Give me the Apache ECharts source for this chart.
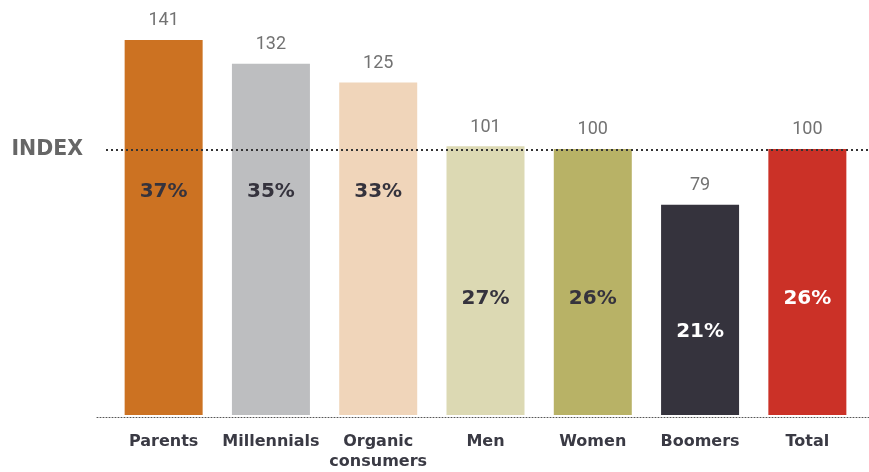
<!DOCTYPE html>
<html>
<head>
<meta charset="utf-8">
<script src="https://cdn.jsdelivr.net/npm/echarts@6/dist/echarts.min.js"></script>
<style>
  html, body { margin: 0; padding: 0; background: #fff; }
  #chart { width: 869px; height: 472px; }
</style>
</head>
<body>
<div id="chart"></div>
<script>
// Shopper groups, their index versus the total, and the share behind each index
const categories = ['Parents', 'Millennials', 'Organic\nconsumers', 'Men', 'Women', 'Boomers', 'Total'];
const indexValues = [141, 132, 125, 101, 100, 79, 100];
const shareLabels = ['37%', '35%', '33%', '27%', '26%', '21%', '26%'];
const indexLine = 100;

const barColors = ['#CC7222', '#BDBEC0', '#F0D5BA', '#DCD9B3', '#B8B266', '#35333D', '#CB3127'];
const shareTextColors = ['#35333D', '#35333D', '#35333D', '#35333D', '#35333D', '#FFFFFF', '#FFFFFF'];
// distance of each share label from the bar foot, in px
const shareLabelLift = [213, 213, 213, 106, 106, 73, 106];

const yMax = 156;
const gridTop = 0, gridBottom = 55;

const chart = echarts.init(document.getElementById('chart'), null, { renderer: 'canvas' });

const option = {
  animation: false,
  backgroundColor: '#ffffff',
  grid: [
    { left: 110, right: 8, top: gridTop, bottom: gridBottom },   // bars
    { left: 97, right: 0, top: gridTop, bottom: gridBottom },    // dotted floor
    { left: 106, right: 0, top: gridTop, bottom: gridBottom }    // index reference line
  ],
  xAxis: [
    {
      gridIndex: 0, type: 'category', data: categories,
      axisLine: { show: false }, axisTick: { show: false },
      axisLabel: {
        interval: 0,
        color: '#3A3A44', fontFamily: 'DejaVu Sans', fontWeight: 'bold', fontSize: 16,
        margin: 17, lineHeight: 20, verticalAlign: 'top'
      }
    },
    {
      gridIndex: 1, type: 'value', min: 0, max: 1,
      axisLine: { show: true, lineStyle: { color: '#555', width: 1, type: [1, 2] } },
      axisTick: { show: false }, axisLabel: { show: false }, splitLine: { show: false }
    },
    {
      gridIndex: 2, type: 'value', min: 0, max: 1, show: false
    }
  ],
  yAxis: [
    { gridIndex: 0, type: 'value', min: 0, max: yMax, show: false },
    { gridIndex: 1, type: 'value', min: 0, max: yMax, show: false },
    { gridIndex: 2, type: 'value', min: 0, max: yMax, show: false }
  ],
  series: [
    {
      type: 'bar', xAxisIndex: 0, yAxisIndex: 0, barWidth: 78,
      data: indexValues.map((v, i) => ({
        value: v,
        itemStyle: { color: barColors[i] },
        label: {
          show: true, position: 'insideBottom', distance: shareLabelLift[i],
          formatter: shareLabels[i], color: shareTextColors[i],
          fontFamily: 'DejaVu Sans', fontWeight: 'bold', fontSize: 20
        }
      })),
      z: 2
    },
    {
      type: 'bar', xAxisIndex: 0, yAxisIndex: 0, barWidth: 78, barGap: '-100%',
      data: indexValues,
      itemStyle: { color: 'rgba(0,0,0,0)' },
      label: {
        show: true, position: 'top', distance: 10,
        color: '#727272', fontFamily: 'Roboto', fontWeight: 'normal', fontSize: 18
      },
      silent: true, z: 3
    },
    {
      type: 'line', xAxisIndex: 2, yAxisIndex: 2, data: [], silent: true,
      markLine: {
        silent: true, symbol: 'none',
        lineStyle: { color: '#333', width: 2, type: [2, 3] },
        label: {
          show: true, position: 'start', formatter: 'INDEX', distance: 23,
          color: '#666666', fontFamily: 'DejaVu Sans', fontWeight: 'bold', fontSize: 20.5
        },
        data: [{ yAxis: indexLine }]
      },
      z: 1
    }
  ]
};

chart.setOption(option);
</script>
</body>
</html>
